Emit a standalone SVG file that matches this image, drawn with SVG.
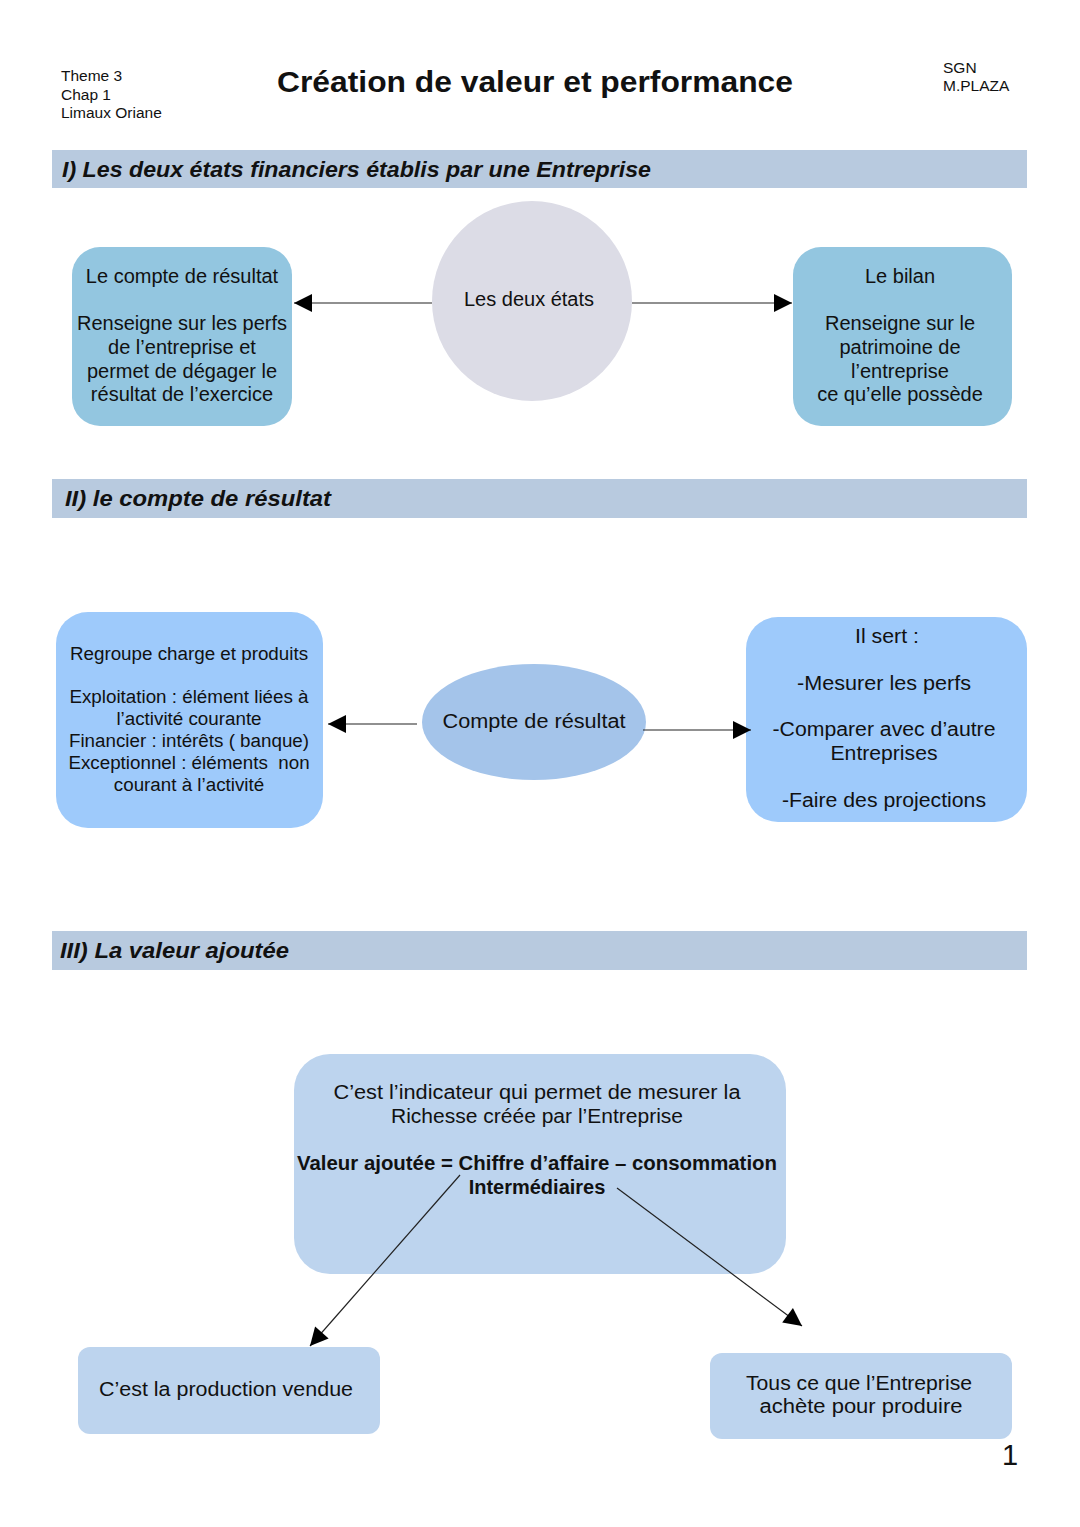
<svg xmlns="http://www.w3.org/2000/svg" width="1080" height="1527" viewBox="0 0 1080 1527">
<defs>
<style>
text{font-family:"Liberation Sans","Open Sans","DejaVu Sans",sans-serif;fill:#111;}
.sm{font-size:15.5px;}
.t{font-size:20px;text-anchor:middle;}
.t2{font-size:18.8px;text-anchor:middle;}
.t3{font-size:20px;text-anchor:middle;}
.tb{font-size:20px;text-anchor:middle;font-weight:bold;}
.h{font-size:22px;font-weight:bold;font-style:italic;}
.band{fill:#b8cadf;}
.conn{stroke:#222;stroke-width:1.2;fill:none;}
</style>
<marker id="ah" viewBox="0 0 10 10" refX="10" refY="5" markerWidth="24" markerHeight="18" markerUnits="userSpaceOnUse" orient="auto">
<path d="M0,0 L10,5 L0,10 z" fill="#000"/>
</marker>
</defs>
<rect width="1080" height="1527" fill="#fff"/>
<g id="header">
<text class="sm" x="61" y="81">Theme 3</text>
<text class="sm" x="61" y="100">Chap 1</text>
<text class="sm" x="61" y="118">Limaux Oriane</text>
<text x="535" y="92" font-size="29" font-weight="bold" text-anchor="middle" textLength="516" lengthAdjust="spacingAndGlyphs">Création de valeur et performance</text>
<text class="sm" x="943" y="73">SGN</text>
<text class="sm" x="943" y="91">M.PLAZA</text>
</g>
<g id="band1"><rect class="band" x="52" y="150" width="975" height="38"/><text class="h" x="62" y="177" textLength="589" lengthAdjust="spacingAndGlyphs">I) Les deux états financiers établis par une Entreprise</text></g>
<g id="band2"><rect class="band" x="52" y="479" width="975" height="39"/><text class="h" x="65" y="506" textLength="266" lengthAdjust="spacingAndGlyphs">II) le compte de résultat</text></g>
<g id="band3"><rect class="band" x="52" y="931" width="975" height="39"/><text class="h" x="60" y="958" textLength="229" lengthAdjust="spacingAndGlyphs">III) La valeur ajoutée</text></g>

<g id="etats">
<circle cx="532" cy="301" r="100" fill="#dcdce6"/>
<text class="t" x="529" y="306">Les deux états</text>
</g>
<g id="compte1">
<rect x="72" y="247" width="220" height="179" rx="28" fill="#93c6e0"/>
<text class="t" x="182" y="283">Le compte de résultat</text>
<text class="t" x="182" y="330">Renseigne sur les perfs</text>
<text class="t" x="182" y="354">de l’entreprise et</text>
<text class="t" x="182" y="378">permet de dégager le</text>
<text class="t" x="182" y="401">résultat de l’exercice</text>
</g>
<g id="bilan">
<rect x="793" y="247" width="219" height="179" rx="28" fill="#93c6e0"/>
<text class="t" x="900" y="283">Le bilan</text>
<text class="t" x="900" y="330">Renseigne sur le</text>
<text class="t" x="900" y="354">patrimoine de</text>
<text class="t" x="900" y="378">l’entreprise</text>
<text class="t" x="900" y="401">ce qu’elle possède</text>
</g>

<g id="regroupe">
<rect x="56" y="612" width="267" height="216" rx="32" fill="#9ecafb"/>
<text class="t2" x="189" y="660">Regroupe charge et produits</text>
<text class="t2" x="189" y="703">Exploitation : élément liées à</text>
<text class="t2" x="189" y="725">l’activité courante</text>
<text class="t2" x="189" y="747">Financier : intérêts ( banque)</text>
<text class="t2" x="189" y="769" xml:space="preserve">Exceptionnel : éléments  non</text>
<text class="t2" x="189" y="791">courant à l’activité</text>
</g>
<g id="compte2">
<ellipse cx="534" cy="722" rx="112" ry="58" fill="#a4c4ea"/>
<text class="t3" x="534" y="728" textLength="183" lengthAdjust="spacingAndGlyphs">Compte de résultat</text>
</g>
<g id="sert">
<rect x="746" y="617" width="281" height="205" rx="32" fill="#9ecafb"/>
<text class="t3" x="887" y="643" textLength="64" lengthAdjust="spacingAndGlyphs">Il sert :</text>
<text class="t3" x="884" y="690" textLength="174" lengthAdjust="spacingAndGlyphs">-Mesurer les perfs</text>
<text class="t3" x="884" y="736" textLength="223" lengthAdjust="spacingAndGlyphs">-Comparer avec d’autre</text>
<text class="t3" x="884" y="760" textLength="107" lengthAdjust="spacingAndGlyphs">Entreprises</text>
<text class="t3" x="884" y="807" textLength="204" lengthAdjust="spacingAndGlyphs">-Faire des projections</text>
</g>

<g id="valeur">
<rect x="294" y="1054" width="492" height="220" rx="36" fill="#bdd4ee"/>
<text class="t3" x="537" y="1099" textLength="407" lengthAdjust="spacingAndGlyphs">C’est l’indicateur qui permet de mesurer la</text>
<text class="t3" x="537" y="1123" textLength="292" lengthAdjust="spacingAndGlyphs">Richesse créée par l’Entreprise</text>
<text class="tb" x="537" y="1170" textLength="480" lengthAdjust="spacingAndGlyphs">Valeur ajoutée = Chiffre d’affaire – consommation</text>
<text class="tb" x="537" y="1194">Intermédiaires</text>
</g>
<g id="production">
<rect x="78" y="1347" width="302" height="87" rx="12" fill="#bdd4ee"/>
<text class="t3" x="226" y="1396" textLength="254" lengthAdjust="spacingAndGlyphs">C’est la production vendue</text>
</g>
<g id="achats">
<rect x="710" y="1353" width="302" height="86" rx="12" fill="#bdd4ee"/>
<text class="t3" x="859" y="1390" textLength="226" lengthAdjust="spacingAndGlyphs">Tous ce que l’Entreprise</text>
<text class="t3" x="861" y="1413" textLength="203" lengthAdjust="spacingAndGlyphs">achète pour produire</text>
</g>
<text x="1010" y="1465" font-size="29" text-anchor="middle">1</text>

<g id="connectors">
<line class="conn" x1="432" y1="303" x2="294" y2="303" marker-end="url(#ah)"/>
<line class="conn" x1="632" y1="303" x2="792" y2="303" marker-end="url(#ah)"/>
<line class="conn" x1="417" y1="724" x2="328" y2="724" marker-end="url(#ah)"/>
<line class="conn" x1="643" y1="730" x2="751" y2="730" marker-end="url(#ah)"/>
<line class="conn" x1="460" y1="1175" x2="310" y2="1346" marker-end="url(#ah)"/>
<line class="conn" x1="617" y1="1188" x2="802" y2="1326" marker-end="url(#ah)"/>
</g>
</svg>
